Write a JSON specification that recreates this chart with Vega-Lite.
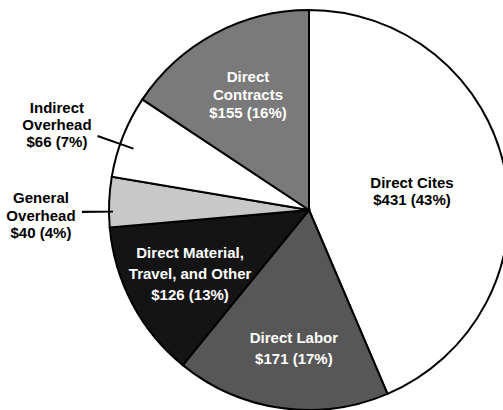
{
  "$schema": "https://vega.github.io/schema/vega-lite/v6.json",
  "autosize": {"type": "none"},
  "width": 388,
  "height": 400,
  "padding": {"left": 115, "top": 10, "right": 0, "bottom": 0},
  "background": "white",
  "view": {"stroke": null},
  "data": {
    "values": [
      {"category": "Direct Cites", "amount": 431, "rank": 1, "label": "Direct Cites\n$431 (43%)"},
      {"category": "Direct Labor", "amount": 171, "rank": 2, "label": "Direct Labor\n$171 (17%)"},
      {"category": "Direct Material, Travel, and Other", "amount": 126, "rank": 3, "label": "Direct Material,\nTravel, and Other\n$126 (13%)"},
      {"category": "General Overhead", "amount": 40, "rank": 4, "label": "General\nOverhead\n$40 (4%)"},
      {"category": "Indirect Overhead", "amount": 66, "rank": 5, "label": "Indirect\nOverhead\n$66 (7%)"},
      {"category": "Direct Contracts", "amount": 155, "rank": 6, "label": "Direct\nContracts\n$155 (16%)"}
    ]
  },
  "layer": [
    {
      "mark": {"type": "arc", "radius": 200, "stroke": "black", "strokeWidth": 2},
      "encoding": {
        "theta": {"field": "amount", "type": "quantitative", "stack": true},
        "order": {"field": "rank", "type": "quantitative"},
        "color": {
          "field": "category",
          "type": "nominal",
          "legend": null,
          "scale": {
            "domain": ["Direct Cites", "Direct Labor", "Direct Material, Travel, and Other", "General Overhead", "Indirect Overhead", "Direct Contracts"],
            "range": ["#ffffff", "#575757", "#141414", "#c8c8c8", "#ffffff", "#7a7a7a"]
          }
        }
      }
    },
    {
      "transform": [{"filter": "datum.category === 'General Overhead'"}],
      "mark": {"type": "arc", "theta": 4.699, "theta2": 4.709, "radius": 227, "radius2": 196, "fill": "black"},
      "encoding": {}
    },
    {
      "transform": [{"filter": "datum.category === 'Indirect Overhead'"}],
      "mark": {"type": "arc", "theta": 5.044, "theta2": 5.054, "radius": 224, "radius2": 186, "fill": "black"},
      "encoding": {}
    },
    {
      "transform": [{"filter": "datum.category === 'Direct Cites'"}],
      "mark": {"type": "text", "lineBreak": "\n", "font": "Liberation Sans", "fontWeight": "bold", "fontSize": 15, "lineHeight": 17, "fill": "black", "align": "center", "baseline": "middle"},
      "encoding": {"text": {"field": "label"}, "theta": {"value": 1.314}, "radius": {"value": 106.5}}
    },
    {
      "transform": [{"filter": "datum.category === 'Direct Labor'"}],
      "mark": {"type": "text", "lineBreak": "\n", "font": "Liberation Sans", "fontWeight": "bold", "fontSize": 15, "lineHeight": 21, "fill": "white", "align": "center", "baseline": "middle"},
      "encoding": {"text": {"field": "label"}, "theta": {"value": 3.259}, "radius": {"value": 128.9}}
    },
    {
      "transform": [{"filter": "datum.category === 'Direct Material, Travel, and Other'"}],
      "mark": {"type": "text", "lineBreak": "\n", "font": "Liberation Sans", "fontWeight": "bold", "fontSize": 15, "lineHeight": 21, "fill": "white", "align": "center", "baseline": "middle"},
      "encoding": {"text": {"field": "label"}, "theta": {"value": 4.365}, "radius": {"value": 126.5}}
    },
    {
      "transform": [{"filter": "datum.category === 'General Overhead'"}],
      "mark": {"type": "text", "lineBreak": "\n", "font": "Liberation Sans", "fontWeight": "bold", "fontSize": 15, "lineHeight": 17.5, "fill": "black", "align": "center", "baseline": "middle"},
      "encoding": {"text": {"field": "label"}, "theta": {"value": 4.757}, "radius": {"value": 268.3}}
    },
    {
      "transform": [{"filter": "datum.category === 'Indirect Overhead'"}],
      "mark": {"type": "text", "lineBreak": "\n", "font": "Liberation Sans", "fontWeight": "bold", "fontSize": 15, "lineHeight": 17, "fill": "black", "align": "center", "baseline": "middle"},
      "encoding": {"text": {"field": "label"}, "theta": {"value": 5.097}, "radius": {"value": 271.9}}
    },
    {
      "transform": [{"filter": "datum.category === 'Direct Contracts'"}],
      "mark": {"type": "text", "lineBreak": "\n", "font": "Liberation Sans", "fontWeight": "bold", "fontSize": 15, "lineHeight": 18, "fill": "white", "align": "center", "baseline": "middle"},
      "encoding": {"text": {"field": "label"}, "theta": {"value": 5.853}, "radius": {"value": 146.3}}
    }
  ]
}
